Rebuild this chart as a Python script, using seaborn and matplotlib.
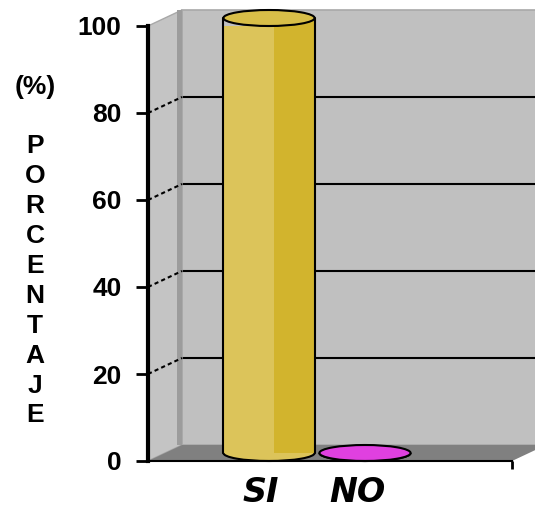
import matplotlib
matplotlib.use("Agg")
import matplotlib.pyplot as plt
from matplotlib.patches import Rectangle, Polygon, Ellipse, Arc
import seaborn as sns

categorias = ["SI", "NO"]
porcentajes = [100, 0]
colores_frente = ["#DCC45A", "#E040E0"]
colores_sombra = ["#D2B42D", "#C435C4"]
colores_tapa = ["#D8BE48", "#E040E0"]
marcas_y = [0, 20, 40, 60, 80, 100]
titulo_y = "(%)\n\n" + "\n".join("PORCENTAJE")

sns.set_theme(style="white")
plt.rcParams["font.family"] = ["Liberation Sans", "DejaVu Sans"]

W, H = 535, 508
fig = plt.figure(figsize=(W / 100, H / 100), dpi=100)
ax = fig.add_axes([148 / W, (H - 461) / H, 387 / W, 435 / H])

sns.barplot(x=categorias, y=porcentajes, hue=categorias, palette=colores_frente,
            width=0.95, saturation=1, legend=False, ax=ax, zorder=5)
barras = list(ax.patches)

# pixel scale of the front plane
px_x = 96.0
px_y = 4.35
x0 = (148 - 261) / px_x
x1 = (535 - 261) / px_x
xe = (512 - 261) / px_x
ax.set_xlim(x0, x1)
ax.set_ylim(0, 100)

# depth of the box (back plane offset) and of the bars (mid depth)
dx, dy = 34 / px_x, 16 / px_y
bx, by = 8 / px_x, 8 / px_y

kw = dict(clip_on=False, transform=ax.transData)

# back wall
ax.add_patch(Rectangle((x0 + dx, dy), x1 + 1 - x0, 100, facecolor="#C0C0C0",
                       edgecolor="#A8A8A8", lw=1.2, zorder=1, **kw))
# side wall
ax.add_patch(Polygon([(x0, 0), (x0, 100), (x0 + dx, 100 + dy), (x0 + dx, dy)],
                     closed=True, facecolor="#C4C4C4", edgecolor="#A8A8A8",
                     lw=1.0, zorder=2, **kw))
ax.add_patch(Polygon([(x0 + dx - 5 / px_x, dy), (x0 + dx - 5 / px_x, 100 + dy),
                      (x0 + dx, 100 + dy), (x0 + dx, dy)],
                     closed=True, facecolor="#9C9C9C", lw=0, zorder=2.1, **kw))
# floor
ax.add_patch(Polygon([(x0, 0), (xe, 0), (xe + dx, dy), (x0 + dx, dy)],
                     closed=True, facecolor="#808080", edgecolor="none",
                     zorder=2.5, **kw))

# gridlines on the back wall and the side wall
for v in marcas_y[1:-1]:
    ax.plot([x0 + dx, x1 + 1], [v + dy, v + dy], color="black", lw=1.5,
            zorder=1.5, clip_on=False)
    ax.plot([x0, x0 + dx], [v, v + dy], color="black", lw=1.5,
            ls=(0, (2, 1.5)), zorder=2.2, clip_on=False)

# cylinders built from the seaborn bars
for barra, c_frente, c_sombra, c_tapa in zip(barras, colores_frente,
                                             colores_sombra, colores_tapa):
    x, w, h = barra.get_x(), barra.get_width(), barra.get_height()
    cx = x + bx + w / 2
    barra.set_xy((x + bx, by))
    barra.set_edgecolor("none")
    barra.set_zorder(5)
    ax.add_patch(Ellipse((cx, by), w, 2 * by, facecolor=c_frente,
                         edgecolor="none", zorder=4.9, **kw))
    ax.add_patch(Arc((cx, by), w, 2 * by, theta1=180, theta2=360,
                     color="black", lw=1.5, zorder=5.2, **kw))
    if h > 0:
        ax.add_patch(Rectangle((x + bx + 0.55 * w, by), 0.45 * w, h,
                               facecolor=c_sombra, lw=0, zorder=5.1, **kw))
        ax.plot([x + bx, x + bx], [by, by + h], color="black", lw=1.5,
                zorder=5.2, clip_on=False)
        ax.plot([x + bx + w, x + bx + w], [by, by + h], color="black", lw=1.5,
                zorder=5.2, clip_on=False)
    ax.add_patch(Ellipse((cx, h + by), w, 2 * by, facecolor=c_tapa,
                         edgecolor="black", lw=1.5, zorder=5.3, **kw))

# axes
ax.patch.set_visible(False)
ax.grid(False)
for s in ("top", "right"):
    ax.spines[s].set_visible(False)
ax.spines["left"].set_color("black")
ax.spines["left"].set_linewidth(3)
ax.spines["left"].set_zorder(6)
ax.spines["bottom"].set_color("black")
ax.spines["bottom"].set_linewidth(1.5)
ax.spines["bottom"].set_bounds(x0, xe)
ax.spines["bottom"].set_zorder(6)

ax.set_yticks(marcas_y)
ax.tick_params(axis="y", left=True, length=9, width=2, color="black",
               pad=10, labelsize=19, labelcolor="black")
for lbl in ax.get_yticklabels():
    lbl.set_fontweight("bold")

ax.set_xticks([0, 1], categorias)
ax.set_xticks([xe], minor=True)
ax.tick_params(axis="x", which="major", length=0, pad=11, labelsize=24,
               labelcolor="black")
ax.tick_params(axis="x", which="minor", bottom=True, length=6, width=2,
               color="black")
for lbl in ax.get_xticklabels():
    lbl.set_family("DejaVu Sans")
    lbl.set_fontweight("bold")
    lbl.set_fontstyle("oblique")

ax.set_xlabel("")
ax.set_ylabel(titulo_y, rotation=0, fontsize=19, fontweight="bold",
              linespacing=1.31, ha="center", va="center", color="black")
ax.yaxis.set_label_coords((35 - 148) / 387, (461 - 251) / 435)

fig.savefig("out.png", dpi=100)
